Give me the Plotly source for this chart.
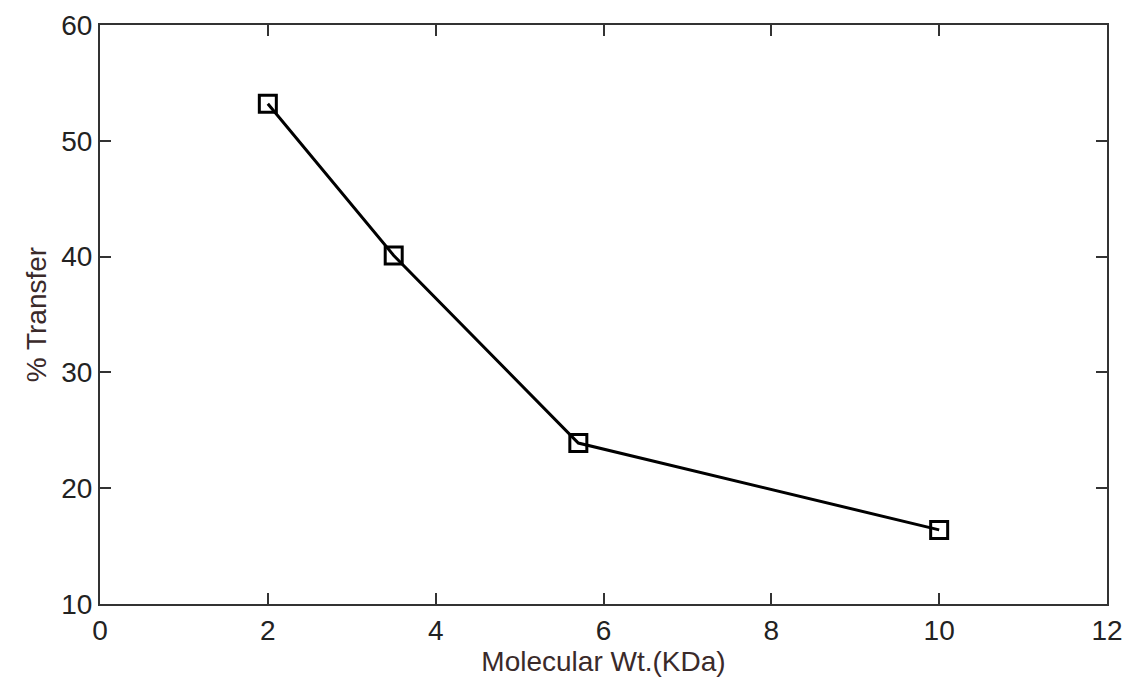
import plotly.graph_objects as go

molecular_wt = [2, 3.5, 5.7, 10]
pct_transfer = [53.2, 40.1, 23.9, 16.4]
x_ticks = [0, 2, 4, 6, 8, 10, 12]
y_ticks = [10, 20, 30, 40, 50, 60]

FONT = "Liberation Sans, Arial, sans-serif"

fig = go.Figure()
fig.add_trace(go.Scatter(
    x=molecular_wt, y=pct_transfer, mode="lines+markers",
    line=dict(color="black", width=3),
    marker=dict(symbol="square-open", size=17, color="black", line=dict(width=3, color="black")),
    showlegend=False, cliponaxis=False,
))

axis_common = dict(
    showline=True, linecolor="#333", linewidth=2, mirror="ticks",
    ticks="inside", ticklen=11, tickwidth=2, tickcolor="#333",
    showgrid=False, zeroline=False, automargin=False,
    ticklabeloverflow="allow",
    tickfont=dict(family=FONT, size=28, color="#222"),
)

fig.update_layout(
    width=1128, height=679,
    margin=dict(l=100, r=21, t=25, b=75),
    paper_bgcolor="white", plot_bgcolor="white",
    xaxis=dict(range=[0, 12], tickvals=x_ticks, **axis_common,
               title=dict(text="Molecular Wt.(KDa)", standoff=4,
                          font=dict(family=FONT, size=28, color="#3a2a2a"))),
    yaxis=dict(range=[10, 60], tickvals=y_ticks, **axis_common,
               title=dict(text="% Transfer", standoff=6,
                          font=dict(family=FONT, size=28, color="#3a2a2a"))),
)

fig.write_html("out.html", config={"displayModeBar": False},
               post_script="document.body.style.margin='0';document.body.style.overflow='hidden';")
